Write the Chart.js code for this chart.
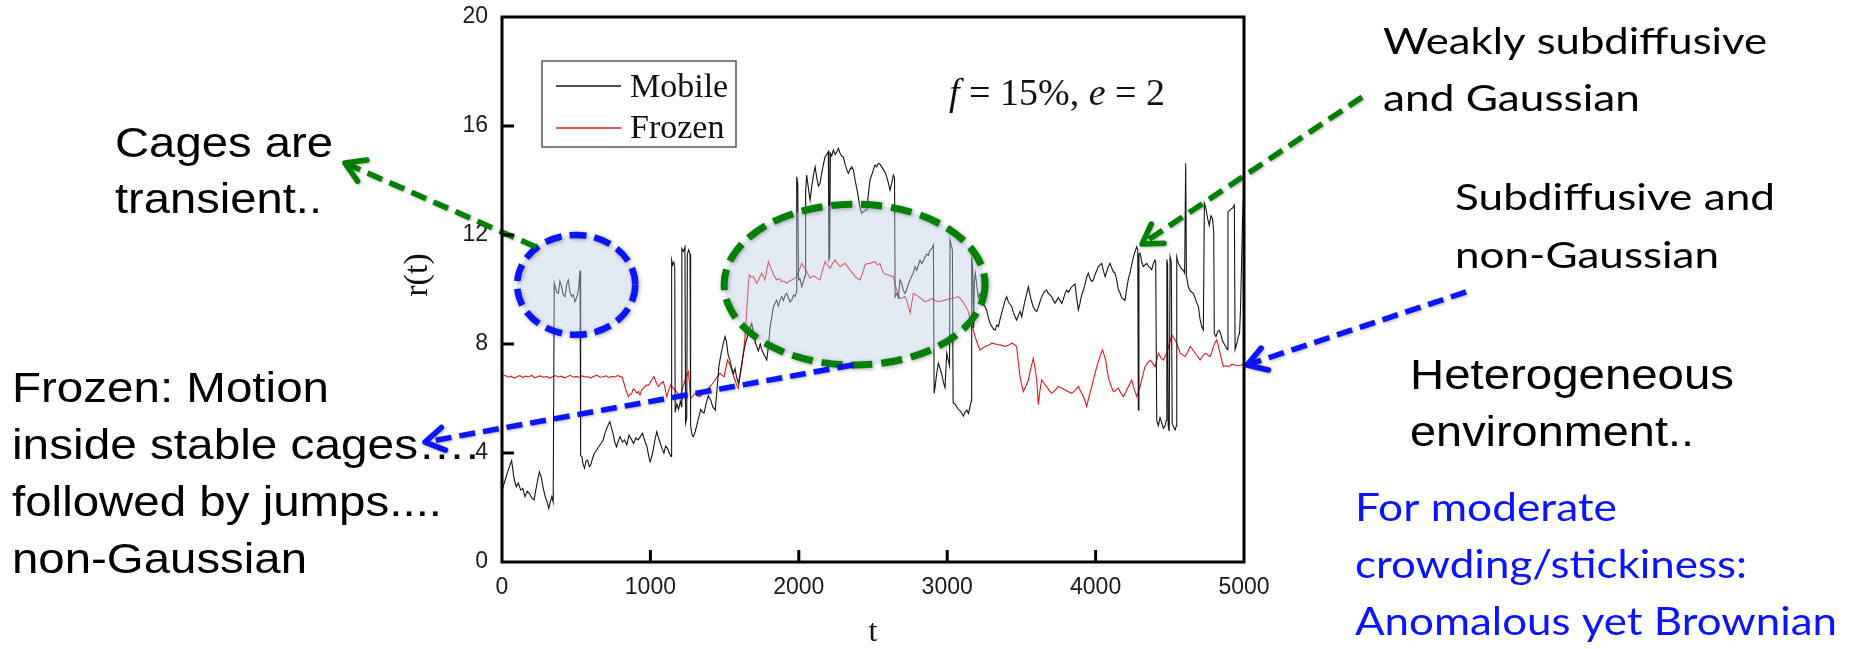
<!DOCTYPE html>
<html>
<head>
<meta charset="utf-8">
<script src="https://cdn.jsdelivr.net/npm/chart.js@4.4.1/dist/chart.umd.min.js"></script>
<style>
  html, body { margin: 0; padding: 0; background: #fff; }
  #wrap { width: 1856px; height: 649px; position: relative; }
</style>
</head>
<body>
<div id="wrap"><canvas id="myChart"></canvas></div>
<script>
const xTicks = [0, 1000, 2000, 3000, 4000, 5000];
const yTicks = [0, 4, 8, 12, 16, 20];

// mobile obstacle run
const mobileT = [
  0, 15, 35, 50, 65, 80, 96, 110, 126, 140,
  155, 170, 185, 200, 216, 230, 240, 252, 265, 276,
  291, 305, 315, 325, 336, 345, 352, 357, 368, 380,
  390, 402, 413, 425, 436, 447, 458, 470, 481, 492,
  503, 515, 526, 530, 538, 546, 556, 566, 577, 588,
  598, 610, 622, 637, 652, 667, 682, 695, 706, 717,
  727, 738, 748, 760, 772, 784, 796, 811, 826, 841,
  856, 872, 887, 902, 917, 932, 947, 962, 977, 988,
  998, 1008, 1019, 1031, 1043, 1055, 1067, 1079, 1091, 1103,
  1115, 1127, 1139, 1143, 1150, 1158, 1164, 1167, 1178, 1190,
  1202, 1210, 1212, 1222, 1233, 1237, 1245, 1249, 1258, 1267,
  1271, 1281, 1290, 1300, 1312, 1325, 1340, 1350, 1362, 1375,
  1390, 1407, 1420, 1437, 1450, 1462, 1475, 1490, 1503, 1512,
  1524, 1536, 1548, 1559, 1570, 1580, 1593, 1605, 1616, 1627,
  1640, 1650, 1660, 1672, 1683, 1694, 1705, 1716, 1728, 1740,
  1750, 1761, 1772, 1784, 1795, 1806, 1818, 1829, 1840, 1851,
  1862, 1874, 1885, 1897, 1908, 1918, 1930, 1941, 1952, 1964,
  1975, 1984, 1986, 1993, 1998, 2008, 2020, 2031, 2042, 2046,
  2053, 2065, 2076, 2088, 2099, 2110, 2121, 2132, 2143, 2155,
  2166, 2177, 2188, 2199, 2203, 2208, 2213, 2222, 2233, 2245,
  2256, 2267, 2278, 2289, 2300, 2312, 2323, 2334, 2345, 2357,
  2368, 2380, 2391, 2401, 2412, 2424, 2435, 2446, 2458, 2469,
  2480, 2491, 2503, 2514, 2525, 2536, 2547, 2559, 2570, 2581,
  2592, 2604, 2615, 2626, 2637, 2645, 2649, 2660, 2671, 2682,
  2694, 2705, 2716, 2727, 2738, 2750, 2761, 2772, 2783, 2795,
  2806, 2817, 2828, 2840, 2851, 2862, 2873, 2884, 2896, 2907,
  2912, 2920, 2929, 2940, 2952, 2963, 2974, 2985, 2997, 3008,
  3016, 3019, 3028, 3035, 3040, 3052, 3064, 3075, 3087, 3098,
  3109, 3120, 3132, 3143, 3154, 3162, 3165, 3172, 3178, 3183,
  3190, 3200, 3210, 3221, 3232, 3244, 3255, 3266, 3278, 3289,
  3300, 3312, 3323, 3334, 3345, 3356, 3367, 3378, 3390, 3401,
  3412, 3424, 3435, 3446, 3457, 3468, 3480, 3491, 3502, 3513,
  3525, 3536, 3547, 3558, 3569, 3580, 3592, 3603, 3614, 3625,
  3637, 3648, 3659, 3670, 3682, 3693, 3704, 3715, 3727, 3738,
  3749, 3760, 3772, 3783, 3794, 3805, 3817, 3828, 3839, 3850,
  3861, 3872, 3884, 3895, 3906, 3918, 3929, 3940, 3951, 3962,
  3974, 3985, 3996, 4008, 4019, 4030, 4041, 4052, 4064, 4075,
  4086, 4097, 4108, 4120, 4131, 4142, 4153, 4165, 4176, 4187,
  4198, 4209, 4221, 4232, 4243, 4255, 4266, 4277, 4284, 4288,
  4292, 4300, 4311, 4322, 4333, 4345, 4356, 4367, 4378, 4389,
  4400, 4405, 4412, 4423, 4434, 4446, 4457, 4468, 4476, 4480,
  4485, 4489, 4496, 4502, 4510, 4516, 4525, 4536, 4544, 4547,
  4558, 4570, 4581, 4592, 4600, 4607, 4612, 4625, 4637, 4648,
  4659, 4670, 4682, 4693, 4704, 4715, 4726, 4733, 4744, 4755,
  4766, 4777, 4788, 4796, 4800, 4811, 4822, 4833, 4844, 4856,
  4867, 4878, 4887, 4892, 4903, 4914, 4925, 4935, 4940, 4951,
  4962, 4970, 4976, 4983, 4990, 4996, 5000
];
const mobileR = [
  2.6, 2.9, 3.25, 3.5, 3.72, 3.1, 2.76, 2.9, 2.64, 2.7,
  2.4, 2.6, 2.52, 2.35, 2.28, 2.7, 3.0, 3.31, 3.1, 2.76,
  2.4, 2.2, 1.97, 2.2, 2.4, 2.2, 10.24, 10.24, 9.9, 9.86,
  10.3, 10.1, 9.8, 9.74, 10.2, 10.35, 9.9, 9.74, 9.8, 9.55,
  9.7, 9.98, 10.69, 3.9, 3.87, 3.6, 3.44, 3.7, 3.74, 3.5,
  3.56, 3.8, 3.99, 4.1, 4.23, 4.35, 4.48, 4.75, 4.9, 5.05,
  5.15, 4.9, 4.72, 4.4, 4.23, 4.45, 4.6, 4.4, 4.48, 4.3,
  4.66, 4.5, 4.35, 4.55, 4.48, 4.6, 4.72, 4.45, 4.23, 3.9,
  3.68, 3.85, 4.11, 4.5, 4.78, 4.55, 4.35, 4.15, 4.0, 4.25,
  4.17, 4.0, 3.87, 11.08, 10.9, 11.0, 10.8, 5.5, 5.8, 5.6,
  5.9, 5.7, 11.5, 11.4, 11.56, 5.1, 5.3, 11.3, 11.45, 11.3,
  5.0, 4.66, 4.6, 4.75, 5.0, 5.3, 5.6, 5.5, 5.47, 5.8,
  6.1, 5.94, 5.7, 5.57, 6.4, 7.2, 7.6, 8.0, 8.27, 8.1,
  7.6, 7.41, 7.1, 6.92, 7.1, 6.8, 6.56, 6.9, 7.3, 7.66,
  8.0, 8.2, 8.39, 8.6, 8.76, 8.4, 8.1, 7.91, 7.75, 8.0,
  7.8, 7.66, 7.55, 7.41, 7.9, 8.6, 9.0, 9.37, 9.5, 9.61,
  9.4, 9.6, 9.74, 9.6, 9.8, 9.86, 9.7, 9.55, 9.6, 9.8,
  9.74, 9.9, 14.14, 13.9, 10.35, 10.4, 10.1, 10.3, 10.5, 13.6,
  14.2, 13.7, 13.28, 13.8, 14.2, 14.5, 14.1, 13.8, 13.9, 14.3,
  14.6, 14.87, 14.95, 15.06, 11.1, 11.2, 15.0, 14.9, 15.12, 14.95,
  15.05, 15.18, 15.0, 14.9, 14.87, 14.6, 14.4, 14.26, 14.4, 14.5,
  14.38, 14.0, 13.7, 13.4, 13.0, 12.8, 12.85, 12.9, 12.92, 13.5,
  14.02, 14.2, 14.4, 14.57, 14.5, 14.63, 14.6, 14.5, 14.4, 14.3,
  14.14, 13.9, 13.65, 13.9, 14.2, 14.1, 9.73, 9.86, 9.7, 10.35,
  10.2, 9.95, 9.86, 10.0, 10.2, 10.35, 10.5, 10.6, 10.84, 10.7,
  10.9, 11.08, 10.95, 11.05, 11.2, 11.3, 11.25, 11.45, 11.5, 11.63,
  6.19, 6.5, 6.9, 7.3, 7.1, 6.9, 6.6, 6.4, 7.66, 7.4,
  7.2, 11.82, 11.6, 11.45, 5.84, 5.8, 5.7, 5.6, 5.55, 5.46,
  5.35, 5.5, 5.58, 5.45, 5.7, 5.9, 11.2, 10.8, 8.6, 10.3,
  10.6, 10.1, 9.7, 9.85, 9.6, 9.45, 9.37, 9.25, 8.95, 8.76,
  8.65, 8.55, 8.51, 8.7, 8.64, 8.9, 9.13, 9.35, 9.6, 9.73,
  9.55, 9.45, 9.37, 9.15, 9.0, 8.88, 9.05, 9.2, 9.0, 9.3,
  9.6, 9.85, 10.1, 9.8, 9.55, 9.37, 9.25, 9.19, 9.35, 9.55,
  9.73, 9.85, 9.95, 9.98, 9.85, 9.8, 9.73, 9.6, 9.5, 9.6,
  9.7, 9.6, 9.49, 9.65, 9.85, 9.98, 9.9, 10.0, 10.1, 10.15,
  10.2, 9.7, 9.25, 9.5, 9.8, 9.98, 10.2, 10.45, 10.6, 10.4,
  10.3, 10.35, 10.55, 10.7, 10.84, 10.9, 10.96, 10.7, 10.47, 10.65,
  10.85, 10.96, 10.8, 10.65, 10.6, 10.35, 10.0, 9.86, 9.7, 9.65,
  9.6, 10.0, 10.4, 10.6, 10.9, 11.2, 11.4, 11.57, 11.45, 5.58,
  11.3, 11.33, 11.0, 10.84, 10.9, 10.96, 10.85, 10.8, 10.72, 10.95,
  11.08, 11.0, 5.2, 5.0, 5.3, 5.1, 4.9, 5.0, 5.2, 11.1,
  10.9, 5.0, 4.8, 11.2, 11.0, 5.1, 4.95, 4.85, 5.0, 11.2,
  10.95, 10.84, 10.75, 10.7, 10.6, 14.63, 10.5, 10.1, 9.95, 9.9,
  9.86, 9.7, 9.5, 9.37, 8.9, 8.64, 8.51, 13.16, 12.96, 12.6,
  12.35, 12.7, 12.6, 12.1, 8.39, 8.27, 8.45, 8.5, 8.35, 8.1,
  8.0, 7.9, 7.8, 12.84, 12.9, 12.96, 13.0, 13.1, 7.8, 8.0,
  8.27, 8.4, 9.2, 10.8, 12.5, 13.3, 13.4
];

// frozen obstacle run
const frozenT = [
  0, 20, 40, 60, 80, 100, 120, 140, 160, 180,
  200, 220, 240, 260, 280, 300, 320, 340, 360, 380,
  400, 420, 440, 460, 480, 500, 520, 540, 560, 580,
  600, 620, 640, 660, 680, 700, 720, 740, 760, 780,
  800, 810, 822, 836, 851, 862, 874, 885, 896, 908,
  919, 930, 941, 953, 964, 975, 986, 997, 1010, 1024,
  1039, 1054, 1070, 1087, 1098, 1110, 1123, 1137, 1150, 1166,
  1183, 1200, 1213, 1227, 1241, 1256, 1264, 1271, 1286, 1301,
  1317, 1334, 1351, 1368, 1385, 1402, 1419, 1436, 1452, 1469,
  1483, 1496, 1508, 1519, 1530, 1541, 1556, 1570, 1582, 1593,
  1604, 1615, 1627, 1638, 1646, 1654, 1660, 1667, 1680, 1694,
  1705, 1716, 1733, 1750, 1761, 1772, 1784, 1795, 1806, 1817,
  1834, 1851, 1868, 1885, 1901, 1918, 1935, 1952, 1969, 1986,
  2003, 2020, 2031, 2042, 2059, 2076, 2093, 2110, 2127, 2143,
  2160, 2177, 2193, 2210, 2227, 2244, 2261, 2278, 2295, 2312,
  2328, 2345, 2362, 2379, 2396, 2413, 2430, 2446, 2463, 2480,
  2497, 2514, 2530, 2547, 2570, 2587, 2604, 2620, 2637, 2649,
  2660, 2671, 2682, 2699, 2716, 2733, 2750, 2761, 2772, 2789,
  2806, 2828, 2851, 2873, 2896, 2918, 2940, 2963, 2985, 3008,
  3030, 3052, 3075, 3098, 3120, 3143, 3165, 3177, 3188, 3205,
  3221, 3238, 3255, 3278, 3300, 3323, 3345, 3367, 3390, 3412,
  3435, 3452, 3468, 3480, 3491, 3502, 3513, 3530, 3547, 3563,
  3580, 3592, 3603, 3609, 3614, 3625, 3637, 3654, 3670, 3687,
  3704, 3727, 3749, 3772, 3794, 3817, 3839, 3861, 3884, 3901,
  3918, 3929, 3940, 3957, 3974, 3991, 4008, 4027, 4046, 4057,
  4068, 4079, 4090, 4105, 4120, 4136, 4153, 4170, 4187, 4204,
  4221, 4232, 4243, 4260, 4277, 4288, 4300, 4316, 4333, 4350,
  4367, 4384, 4400, 4412, 4423, 4440, 4457, 4468, 4479, 4497,
  4514, 4530, 4547, 4558, 4570, 4587, 4603, 4620, 4637, 4654,
  4670, 4687, 4704, 4721, 4738, 4755, 4771, 4783, 4794, 4805,
  4816, 4828, 4839, 4850, 4862, 4878, 4895, 4918, 4940, 4962,
  4985, 5000
];
const frozenR = [
  6.8, 6.85, 6.78, 6.82, 6.75, 6.8, 6.84, 6.77, 6.82, 6.79,
  6.85, 6.76, 6.8, 6.83, 6.78, 6.81, 6.75, 6.8, 6.84, 6.79,
  6.82, 6.76, 6.8, 6.85, 6.78, 6.81, 6.77, 6.83, 6.79, 6.8,
  6.76, 6.82, 6.85, 6.78, 6.8, 6.83, 6.77, 6.81, 6.79, 6.84,
  6.8, 6.78, 6.56, 6.3, 6.07, 6.15, 6.19, 6.35, 6.31, 6.2,
  6.25, 6.13, 6.3, 6.38, 6.44, 6.5, 6.48, 6.56, 6.7, 6.8,
  6.6, 6.44, 6.55, 6.62, 6.4, 6.07, 6.3, 6.5, 6.4, 6.31,
  6.2, 6.07, 6.3, 6.56, 6.8, 6.98, 6.5, 6.0, 6.1, 6.19,
  6.1, 6.07, 6.2, 6.31, 6.35, 6.44, 6.55, 6.68, 6.8, 6.92,
  6.85, 6.8, 7.1, 7.41, 7.3, 7.17, 6.9, 6.68, 6.5, 6.38,
  6.8, 7.17, 7.7, 8.27, 9.0, 9.61, 10.2, 10.53, 10.45, 10.47,
  10.35, 10.23, 10.4, 10.6, 10.5, 10.35, 10.7, 11.02, 10.85, 10.72,
  10.5, 10.35, 10.4, 10.29, 10.3, 10.23, 10.3, 10.35, 10.4, 10.47,
  10.7, 10.96, 10.85, 10.78, 10.6, 10.41, 10.5, 10.47, 10.4, 10.35,
  10.7, 11.02, 10.9, 10.78, 10.95, 11.08, 10.95, 10.84, 10.9, 10.96,
  10.85, 10.72, 10.6, 10.47, 10.4, 10.35, 10.6, 10.9, 10.95, 10.96,
  11.0, 11.02, 10.9, 10.95, 10.6, 10.55, 10.53, 10.5, 10.47, 10.2,
  9.98, 9.8, 9.67, 9.7, 9.74, 9.5, 9.13, 9.5, 9.86, 9.8,
  9.74, 9.65, 9.55, 9.6, 9.67, 9.6, 9.55, 9.58, 9.61, 9.65,
  9.67, 9.7, 9.74, 9.6, 9.43, 9.19, 8.7, 8.5, 8.27, 8.0,
  7.78, 7.85, 7.91, 7.95, 8.03, 8.0, 7.97, 7.95, 7.91, 7.95,
  8.03, 7.98, 7.91, 7.3, 6.8, 6.5, 6.25, 6.45, 6.68, 7.1,
  7.47, 7.1, 6.68, 6.2, 5.77, 6.3, 6.68, 6.55, 6.44, 6.3,
  6.19, 6.3, 6.44, 6.38, 6.31, 6.25, 6.19, 6.3, 6.44, 6.25,
  6.07, 5.9, 5.7, 6.1, 6.44, 6.8, 7.17, 7.5, 7.78, 7.6,
  7.41, 7.0, 6.68, 6.45, 6.25, 6.3, 6.38, 6.2, 6.07, 6.25,
  6.44, 6.55, 6.68, 6.35, 6.07, 6.25, 6.44, 6.8, 7.17, 7.3,
  7.41, 7.3, 7.17, 7.4, 7.66, 7.5, 7.41, 7.55, 7.66, 8.0,
  8.33, 8.2, 8.03, 7.85, 7.66, 7.6, 7.54, 7.7, 7.91, 7.8,
  7.66, 7.55, 7.41, 7.55, 7.66, 7.6, 7.54, 7.7, 7.91, 8.05,
  8.15, 7.9, 7.66, 7.4, 7.17, 7.2, 7.17, 7.25, 7.23, 7.2,
  7.23, 7.25
];

const SANS = '"Liberation Sans", Arial, sans-serif';
const SERIF = '"Liberation Serif", "Times New Roman", serif';
const CALI = 'Lato, "Open Sans", sans-serif';
const GREEN = '#008000';
const BLUE = '#0a14ff';

// stretch a line of text to the width it takes on the slide
function fitText(ctx, str, x, y, w) {
  const m = ctx.measureText(str).width;
  ctx.save();
  ctx.translate(x, y);
  ctx.scale(w / m, 1);
  ctx.fillText(str, 0, 0);
  ctx.restore();
}

function cageRing(ctx, xs, ys, t, r, dt, dr, color, lw, dash) {
  const cx = xs.getPixelForValue(t), cy = ys.getPixelForValue(r);
  const rx = Math.abs(xs.getPixelForValue(t + dt) - cx);
  const ry = Math.abs(ys.getPixelForValue(r + dr) - cy);
  ctx.save();
  ctx.beginPath();
  ctx.ellipse(cx, cy, rx, ry, 0, 0, Math.PI * 2);
  ctx.fillStyle = 'rgba(190, 205, 228, 0.42)';
  ctx.fill();
  ctx.shadowColor = 'rgba(0,0,0,0.35)';
  ctx.shadowBlur = 4;
  ctx.shadowOffsetX = 1;
  ctx.shadowOffsetY = 1;
  ctx.setLineDash(dash);
  ctx.lineWidth = lw;
  ctx.strokeStyle = color;
  ctx.stroke();
  ctx.restore();
}

function dashArrow(ctx, xs, ys, from, to, color) {
  const x1 = xs.getPixelForValue(from[0]), y1 = ys.getPixelForValue(from[1]);
  const x2 = xs.getPixelForValue(to[0]), y2 = ys.getPixelForValue(to[1]);
  const ang = Math.atan2(y2 - y1, x2 - x1);
  ctx.save();
  ctx.shadowColor = 'rgba(0,0,0,0.3)';
  ctx.shadowBlur = 3;
  ctx.shadowOffsetX = 1;
  ctx.shadowOffsetY = 1;
  ctx.strokeStyle = color;
  ctx.lineWidth = 5.5;
  ctx.setLineDash([16, 8]);
  ctx.beginPath();
  ctx.moveTo(x1, y1);
  ctx.lineTo(x2 - Math.cos(ang) * 4, y2 - Math.sin(ang) * 4);
  ctx.stroke();
  ctx.setLineDash([]);
  ctx.lineCap = 'round';
  ctx.lineJoin = 'round';
  const L = 22, a = 0.55;
  ctx.beginPath();
  ctx.moveTo(x2 - L * Math.cos(ang - a), y2 - L * Math.sin(ang - a));
  ctx.lineTo(x2, y2);
  ctx.lineTo(x2 - L * Math.cos(ang + a), y2 - L * Math.sin(ang + a));
  ctx.stroke();
  ctx.restore();
}

const overlay = {
  id: 'overlay',
  afterDatasetsDraw(chart) {
    const { ctx, scales: { x, y } } = chart;
    // cages
    cageRing(ctx, x, y, 500, 10.17, 398, 1.83, BLUE, 6.5, [17, 8]);
    cageRing(ctx, x, y, 2376, 10.18, 879, 2.95, GREEN, 7, [21, 9]);
    // arrows, ends given in (t, r)
    dashArrow(ctx, x, y, [229, 11.56], [-1058, 14.64], GREEN);
    dashArrow(ctx, x, y, [5796, 17.06], [4313, 11.67], GREEN);
    dashArrow(ctx, x, y, [2365, 7.23], [-519, 4.40], BLUE);
    dashArrow(ctx, x, y, [6496, 9.91], [5020, 7.23], BLUE);
  },
  afterDraw(chart) {
    const { ctx, chartArea: a, scales: { x, y } } = chart;
    ctx.save();
    // frame and inward ticks
    ctx.strokeStyle = '#000';
    ctx.lineWidth = 3;
    ctx.strokeRect(a.left, a.top, a.right - a.left, a.bottom - a.top);
    ctx.beginPath();
    yTicks.slice(1, -1).forEach(v => {
      const py = y.getPixelForValue(v);
      ctx.moveTo(a.left, py);
      ctx.lineTo(a.left + 12, py);
    });
    xTicks.slice(1, -1).forEach(v => {
      const px = x.getPixelForValue(v);
      ctx.moveTo(px, a.bottom);
      ctx.lineTo(px, a.bottom - 12);
    });
    ctx.stroke();

    // legend box
    ctx.lineWidth = 1.5;
    ctx.strokeStyle = '#555';
    ctx.strokeRect(542, 61, 194, 86);
    chart.data.datasets.forEach((ds, i) => {
      const ly = 86 + i * 42;
      ctx.strokeStyle = ds.borderColor;
      ctx.lineWidth = 1.3;
      ctx.beginPath();
      ctx.moveTo(556, ly);
      ctx.lineTo(621, ly);
      ctx.stroke();
      ctx.fillStyle = '#111';
      ctx.font = '34px ' + SERIF;
      ctx.textBaseline = 'alphabetic';
      ctx.fillText(ds.label, 630, 97 + i * 41);
    });

    // parameters
    const parts = [['f', 'italic '], [' = 15%, ', ''], ['e', 'italic '], [' = 2', '']];
    let total = 0;
    parts.forEach(p => { ctx.font = p[1] + '38px ' + SERIF; total += ctx.measureText(p[0]).width; });
    const k = 216 / total;
    let px = 949;
    parts.forEach(p => {
      ctx.font = p[1] + '38px ' + SERIF;
      const w = ctx.measureText(p[0]).width * k;
      fitText(ctx, p[0], px, 105, w);
      px += w;
    });

    // axis titles
    ctx.font = '32px ' + SERIF;
    ctx.textAlign = 'center';
    ctx.textBaseline = 'middle';
    ctx.fillText('t', 873, 633);
    ctx.save();
    ctx.translate(418, 275);
    ctx.rotate(-Math.PI / 2);
    ctx.font = '34px ' + SERIF;
    ctx.fillText('r(t)', 0, 0);
    ctx.restore();

    // notes around the plot
    ctx.textAlign = 'left';
    ctx.textBaseline = 'alphabetic';
    ctx.fillStyle = '#000';
    ctx.font = '42px ' + SANS;
    [
      ['Cages are', 115, 157, 218],
      ['transient..', 115, 213, 207],
      ['Frozen: Motion', 12, 402, 317],
      ['inside stable cages….', 12, 459, 467],
      ['followed by jumps....', 12, 516, 430],
      ['non-Gaussian', 12, 573, 295],
      ['Heterogeneous', 1410, 389, 324],
      ['environment..', 1410, 446, 284]
    ].forEach(n => fitText(ctx, n[0], n[1], n[2], n[3]));

    ctx.font = '36px ' + CALI;
    [
      ['Weakly subdiffusive', 1383, 54, 384],
      ['and Gaussian', 1383, 111, 257],
      ['Subdiffusive and', 1455, 210, 320],
      ['non-Gaussian', 1455, 268, 264]
    ].forEach(n => fitText(ctx, n[0], n[1], n[2], n[3]));

    ctx.fillStyle = BLUE;
    ctx.font = '38px ' + CALI;
    [
      ['For moderate', 1355, 521, 262],
      ['crowding/stickiness:', 1355, 578, 392],
      ['Anomalous yet Brownian', 1355, 635, 482]
    ].forEach(n => fitText(ctx, n[0], n[1], n[2], n[3]));
    ctx.restore();
  }
};

const ctx = document.getElementById('myChart');
const myChart = new Chart(ctx, {
  type: 'line',
  data: {
    datasets: [{
      label: 'Mobile',
      data: mobileT.map((t, i) => ({ x: t, y: mobileR[i] })),
      borderColor: '#151515',
      borderWidth: 1.1,
      pointRadius: 0,
      tension: 0
    }, {
      label: 'Frozen',
      data: frozenT.map((t, i) => ({ x: t, y: frozenR[i] })),
      borderColor: '#e8141a',
      borderWidth: 1.1,
      pointRadius: 0,
      tension: 0
    }]
  },
  options: {
    responsive: true,
    maintainAspectRatio: false,
    animation: false,
    devicePixelRatio: 1,
    layout: { padding: { left: 442, right: 612, top: 17, bottom: 47 } },
    plugins: {
      legend: { display: false },
      tooltip: { enabled: false }
    },
    scales: {
      x: {
        type: 'linear',
        min: 0,
        max: 5000,
        // fixed band under the plot; no extra side padding for end labels
        afterFit: s => { s.height = 40; s.paddingLeft = 0; s.paddingRight = 0; },
        afterBuildTicks: s => { s.ticks = xTicks.map(v => ({ value: v })); },
        grid: { display: false, drawTicks: false },
        border: { display: false },
        ticks: {
          padding: 12,
          maxRotation: 0,
          autoSkip: false,
          color: '#1a1a1a',
          font: { family: SANS, size: 23 },
          callback: v => String(v)
        }
      },
      y: {
        min: 0,
        max: 20,
        afterFit: s => { s.width = 60; s.paddingTop = 0; s.paddingBottom = 0; },
        afterBuildTicks: s => { s.ticks = yTicks.map(v => ({ value: v })); },
        grid: { display: false, drawTicks: false },
        border: { display: false },
        ticks: {
          padding: 14,
          color: '#1a1a1a',
          font: { family: SANS, size: 23 },
          callback: v => String(v)
        }
      }
    }
  },
  plugins: [overlay]
});
</script>
</body>
</html>
